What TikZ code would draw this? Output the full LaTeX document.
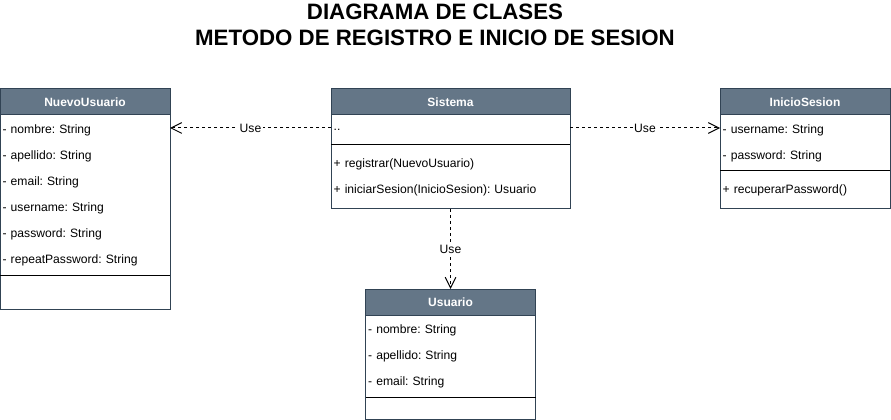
\documentclass[tikz,border=0pt]{standalone}
\usepackage{fontspec}
\setmainfont{Liberation Sans}
\usepackage{xcolor}
\usetikzlibrary{arrows.meta, positioning}
\definecolor{HeadFill}{HTML}{647687}
\definecolor{HeadLine}{HTML}{314354}
\frenchspacing
\tikzset{
  cls head/.style={draw=HeadLine, fill=HeadFill, text=white, minimum width=127.5pt,
                   minimum height=19.5pt, inner sep=0pt, outer sep=0pt,
                   font=\fontsize{9}{11}\selectfont\bfseries, line width=0.75pt},
  cls part/.style={draw=HeadLine, fill=white, text width=123.5pt, align=left,
                   inner xsep=2pt, inner ysep=0pt, outer sep=0pt,
                   font=\fontsize{9.1}{19.5}\selectfont, line width=0.75pt},
  sep line/.style={line width=0.75pt, black},
  use edge/.style={-{Straight Barb[length=8pt, width=8pt]}, line width=0.75pt,
                   dash pattern=on 2.25pt off 2.25pt},
  use label/.style={fill=white, inner sep=1pt, font=\fontsize{9.1}{11}\selectfont},
}

\begin{document}
\begin{tikzpicture}[x=0.75pt, y=-0.75pt]
  \useasboundingbox (0,0) rectangle (891,420);
  \node[align=center, font=\fontsize{16.7}{19}\selectfont\bfseries] (title) at (435,25)
    {DIAGRAMA DE CLASES\\METODO DE REGISTRO E INICIO DE SESION};

  % NuevoUsuario
  \node[cls head] (nu-head) at (85,102) {NuevoUsuario};
  \node[cls part, minimum height=120pt, below=0pt of nu-head] (nu-body)
    {- nombre: String\\- apellido: String\\- email: String\\- username: String\\- password: String\\- repeatPassword: String};
  \node[cls part, minimum height=25.5pt, below=0pt of nu-body] (nu-meth) {};

  % Sistema
  \node[cls head, minimum width=179.25pt] (si-head) at (450.5,102) {Sistema};
  \node[cls part, text width=175.25pt, minimum height=22.5pt, below=0pt of si-head] (si-body) {..};
  \node[cls part, text width=175.25pt, minimum height=48pt, below=0pt of si-body] (si-meth)
    {+ registrar(NuevoUsuario)\\+ iniciarSesion(InicioSesion): Usuario};

  % InicioSesion
  \node[cls head] (is-head) at (805,102) {InicioSesion};
  \node[cls part, minimum height=42pt, below=0pt of is-head] (is-body)
    {- username: String\\- password: String};
  \node[cls part, minimum height=28.5pt, below=0pt of is-body] (is-meth) {+ recuperarPassword()};

  % Usuario
  \node[cls head] (us-head) at (450.5,302) {Usuario};
  \node[cls part, minimum height=61.5pt, below=0pt of us-head] (us-body)
    {- nombre: String\\- apellido: String\\- email: String};
  \node[cls part, minimum height=16.5pt, below=0pt of us-body] (us-meth) {};

  \foreach \cls in {nu, si, is, us}
    \draw[sep line] (\cls-body.south west) -- (\cls-body.south east);

  % dependencies
  \coordinate (si-row) at ([yshift=1.5pt]si-body.west);
  \coordinate (si-row2) at ([yshift=1.5pt]si-body.east);
  \draw[use edge] (si-row) -- (si-row -| nu-body.east) node[use label, midway] {Use};
  \draw[use edge] (si-row2) -- (si-row2 -| is-body.west) node[use label, midway] {Use};
  \draw[use edge] (si-meth.south) -- (us-head.north) node[use label, midway] {Use};
\end{tikzpicture}
\end{document}
